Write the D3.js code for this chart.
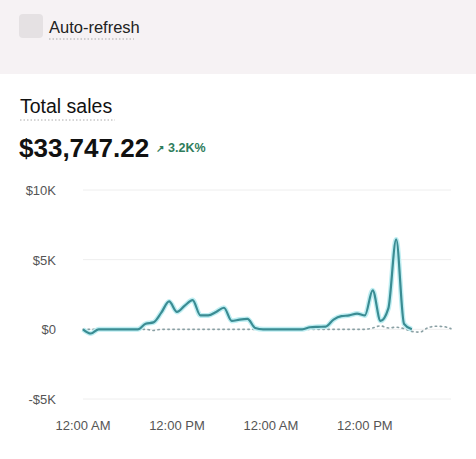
<!DOCTYPE html>
<html>
<head>
<meta charset="utf-8">
<script src="https://cdn.jsdelivr.net/npm/d3@7"></script>
<style>
  body { margin: 0; background: #fff; font-family: "Liberation Sans", Arial, sans-serif; }
  svg { display: block; }
</style>
</head>
<body>
<div id="chart"></div>
<script>
// hourly sales, current period (hours since first 12:00 AM)
var hours = d3.range(0, 43);
var sales = [0, -300, 0, 0, 0, 0, 0, 0, 400, 500,
             1200, 2000, 1250, 1700, 2100, 1000, 1000, 1250, 1550, 600,
             700, 750, 100, 0, 0, 0, 0, 0, 0, 150,
             180, 200, 700, 950, 1000, 1130, 1000, 2800, 600, 1500,
             6450, 400, 0];
// previous period (dotted)
var prevHours = d3.range(0, 48);
var prevSales = [0, 0, 0, 0, 0, 0, 0, 0, 0, -80,
                 0, 0, 0, 0, 0, 0, 0, 0, 0, 0,
                 0, 0, 0, 0, 0, 0, 0, 0, 0, 0,
                 0, 0, 0, 0, 0, 0, 0, 100, 250, 100,
                 150, 50, -150, -200, 100, 220, 200, 50];
var yTicks = [-5000, 0, 5000, 10000];
var yTickLabels = ["-$5K", "$0", "$5K", "$10K"];
var xTicks = [0, 12, 24, 36];
var xTickLabels = ["12:00 AM", "12:00 PM", "12:00 AM", "12:00 PM"];

var W = 476, H = 459;
var svg = d3.select("#chart").append("svg")
    .attr("width", W)
    .attr("height", H);

// top bar
svg.append("rect").attr("x", 0).attr("y", 0).attr("width", W).attr("height", 74).attr("fill", "#f6f2f4");
svg.append("rect").attr("x", 19).attr("y", 14).attr("width", 24).attr("height", 24)
    .attr("rx", 4).attr("fill", "#e5e1e3");
svg.append("text").attr("x", 49).attr("y", 33).attr("font-size", 16.5).attr("fill", "#222")
    .text("Auto-refresh");
svg.append("line").attr("x1", 49).attr("x2", 134).attr("y1", 39).attr("y2", 39)
    .attr("stroke", "#aaa").attr("stroke-dasharray", "1.5,2");

// header
svg.append("text").attr("x", 20).attr("y", 113).attr("font-size", 19.5).attr("fill", "#111")
    .text("Total sales");
svg.append("line").attr("x1", 20).attr("x2", 115).attr("y1", 120).attr("y2", 120)
    .attr("stroke", "#aaa").attr("stroke-dasharray", "1.5,2");
svg.append("text").attr("x", 19).attr("y", 157).attr("font-size", 26).attr("font-weight", "bold")
    .attr("fill", "#111").text("$33,747.22");
svg.append("text").attr("x", 156).attr("y", 152).attr("font-size", 10).attr("font-weight", "bold")
    .attr("fill", "#2f7d5c").text("\u2197");
svg.append("text").attr("x", 168).attr("y", 152).attr("font-size", 12.5).attr("font-weight", "bold")
    .attr("fill", "#2f7d5c").text("3.2K%");

// Set the ranges
var x = d3.scaleLinear().domain([0, 47]).range([83, 451]);
var y = d3.scaleLinear().domain([-5000, 10000]).range([399, 190]);

// grid
svg.append("g").selectAll("line")
    .data(yTicks)
    .enter().append("line")
    .attr("x1", 83).attr("x2", 451)
    .attr("y1", function(d) { return y(d); })
    .attr("y2", function(d) { return y(d); })
    .attr("stroke", "#eeeeee");

svg.append("g").selectAll("text")
    .data(yTicks)
    .enter().append("text")
    .attr("x", 56)
    .attr("y", function(d) { return y(d) + 5; })
    .attr("text-anchor", "end")
    .attr("font-size", 13)
    .attr("fill", "#555")
    .text(function(d, i) { return yTickLabels[i]; });

svg.append("g").selectAll("text")
    .data(xTicks)
    .enter().append("text")
    .attr("x", function(d) { return x(d); })
    .attr("y", 430)
    .attr("text-anchor", "middle")
    .attr("font-size", 13)
    .attr("fill", "#555")
    .text(function(d, i) { return xTickLabels[i]; });

// lines
var line = d3.line()
    .x(function(d) { return x(d[0]); })
    .y(function(d) { return y(d[1]); })
    .curve(d3.curveMonotoneX);

svg.append("path")
    .attr("d", line(d3.zip(prevHours, prevSales)))
    .attr("fill", "none")
    .attr("stroke", "#8aa0a4")
    .attr("stroke-width", 1.6)
    .attr("stroke-dasharray", "1.5,3.5")
    .attr("stroke-linecap", "round");

var cur = d3.zip(hours, sales);
svg.append("path")
    .attr("d", line(cur))
    .attr("fill", "none")
    .attr("stroke", "#bfeef2")
    .attr("stroke-width", 5);

svg.append("path")
    .attr("d", line(cur))
    .attr("fill", "none")
    .attr("stroke", "#3a8c93")
    .attr("stroke-width", 2.2);
</script>
</body>
</html>
